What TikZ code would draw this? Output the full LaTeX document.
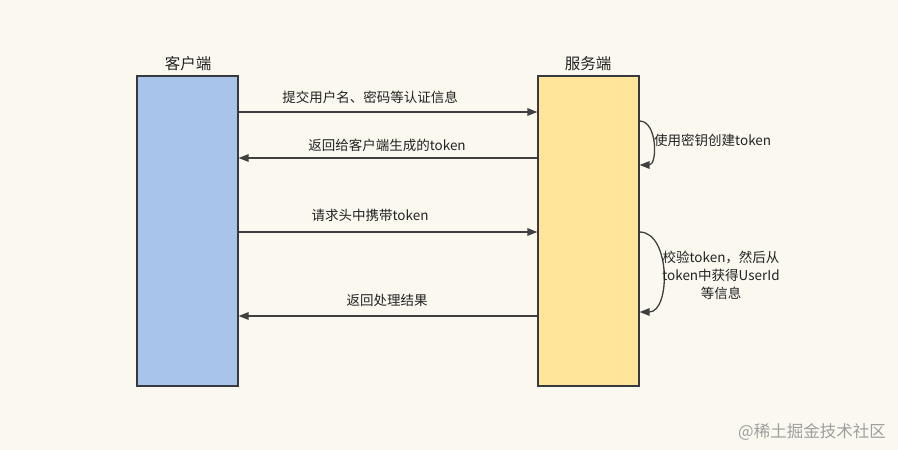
\documentclass[tikz,border=0pt]{standalone}
\usepackage{fontspec}
\setmainfont{Noto Sans CJK SC}
\usetikzlibrary{arrows.meta}

\definecolor{bgcream}{HTML}{FBF9EF}
\definecolor{clientblue}{HTML}{A9C4EB}
\definecolor{serveryellow}{HTML}{FFE599}
\definecolor{edgegray}{HTML}{36393D}
\definecolor{linegray}{HTML}{404040}
\definecolor{textgray}{HTML}{222222}

\tikzset{
  lifebox/.style={draw=edgegray, line width=1.1pt, minimum width=101pt, minimum height=310pt, inner sep=0pt},
  msg/.style={draw=linegray, line width=1.3pt, -{Triangle[length=10pt,width=7.5pt]}},
  msgtext/.style={font=\fontsize{13.5}{18}\selectfont, text=textgray, inner sep=1pt},
  headtext/.style={font=\fontsize{15.5}{17}\selectfont, text=textgray, inner sep=1pt}
}

\begin{document}
\begin{tikzpicture}[x=1pt, y=-1pt]
				\fill[bgcream] (0,0) rectangle (898,450);
				\useasboundingbox (0,0) rectangle (898,450);
				% the two sides
				\node[lifebox, fill=clientblue] (client) at (187.5,231) {};
				\node[lifebox, fill=serveryellow] (server) at (588.5,231) {};
				\node[headtext] (clientname) at (188,64) {客户端};
				\node[headtext] (servername) at (588,64) {服务端};
				% end points on the boxes
				\coordinate (c1) at (client.east |- 0,112);
				\coordinate (s1) at (server.west |- 0,112);
				\coordinate (c2) at (client.east |- 0,158);
				\coordinate (s2) at (server.west |- 0,158);
				\coordinate (c3) at (client.east |- 0,232);
				\coordinate (s3) at (server.west |- 0,232);
				\coordinate (c4) at (client.east |- 0,316);
				\coordinate (s4) at (server.west |- 0,316);
				\coordinate (la) at (server.east |- 0,121);
				\coordinate (lb) at (server.east |- 0,165);
				\coordinate (lc) at (server.east |- 0,232);
				\coordinate (ld) at (server.east |- 0,312);
				% messages
				\draw[msg] (c1) -- (s1);
				\draw[msg] (s2) -- (c2);
				\draw[msg] (c3) -- (s3);
				\draw[msg] (s4) -- (c4);
				\draw[msg] (la) to[out=0, in=0, looseness=1.05] (lb);
				\draw[msg] (lc) to[out=0, in=0, looseness=1.0] (ld);
				% labels
				\node[msgtext] (m1) at (370,97) {提交用户名、密码等认证信息};
				\node[msgtext] (m2) at (387,145) {返回给客户端生成的token};
				\node[msgtext] (m3) at (370,215) {请求头中携带token};
				\node[msgtext] (m4) at (387,300) {返回处理结果};
				\node[msgtext, anchor=west] (m5) at (653,140) {使用密钥创建token};
				\node[msgtext, align=center] (m6) at (721,275) {校验token，然后从\\token中获得UserId\\等信息};
				\node[font=\fontsize{16.5}{18}\selectfont, text=black!38] (mark) at (812,432) {@稀土掘金技术社区};
			\end{tikzpicture}
\end{document}
